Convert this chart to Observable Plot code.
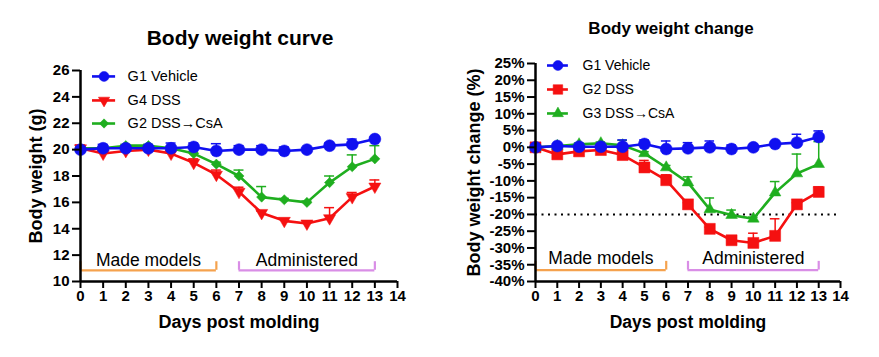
<!DOCTYPE html>
<html><head><meta charset="utf-8">
<script src="https://cdn.jsdelivr.net/npm/d3@7"></script>
<script src="https://cdn.jsdelivr.net/npm/@observablehq/plot@0.6"></script>
<style>
html,body{margin:0;padding:0;background:#fff;}
#wrap{position:relative;width:879px;height:357px;overflow:hidden;background:#fff;}
#wrap svg{position:absolute;top:0;}
</style></head><body><div id="wrap"></div>
<script>
// ---------- data ----------
const days = [0,1,2,3,4,5,6,7,8,9,10,11,12,13];
const xTicks = [0,1,2,3,4,5,6,7,8,9,10,11,12,13,14];
const weightTicks = [10,12,14,16,18,20,22,24,26];
const changeTicks = [-40,-35,-30,-25,-20,-15,-10,-5,0,5,10,15,20,25];

// Body weight curve (g)
const weightNames = ["G1 Vehicle", "G4 DSS", "G2 DSS\u2192CsA"];
const weightG1 = [20.0,20.1,20.1,20.1,20.1,20.2,19.9,20.0,20.0,19.9,20.0,20.3,20.4,20.8];
const weightG1Err = [0.1,0.3,0.2,0.2,0.4,0.3,0.55,0.3,0.3,0.3,0.15,0.2,0.4,0.15];
const weightG4 = [20.1,19.7,19.9,20.0,19.7,19.0,18.1,16.8,15.2,14.6,14.4,14.8,16.4,17.2];
const weightG4Err = [0.25,0.15,0.15,0.1,0.15,0.3,0.35,0.35,0.15,0.15,0.2,0.8,0.35,0.5];
const weightG2 = [20.1,20.1,20.3,20.3,20.1,19.7,18.9,18.0,16.4,16.2,16.0,17.5,18.7,19.3];
const weightG2Err = [0.1,0.1,0.1,0.1,0.1,0.1,0.15,0.45,0.8,0.1,0.1,0.5,0.9,1.0];

// Body weight change (%)
const changeNames = ["G1 Vehicle", "G2 DSS", "G3 DSS\u2192CsA"];
const changeG1 = [0.0,0.4,0.2,0.2,0.2,1.0,-0.5,-0.3,0.0,-0.5,0.0,1.0,1.4,3.1];
const changeG1Err = [0.3,0.5,0.5,0.5,2.0,1.2,2.4,1.7,1.9,1.2,0.4,0.4,2.5,1.8];
const changeG2 = [0.0,-2.1,-1.2,-0.8,-2.3,-6.0,-9.8,-17.0,-24.3,-27.7,-28.5,-26.4,-17.0,-13.3];
const changeG2Err = [0.3,0.4,0.5,0.5,0.5,2.1,1.6,0.5,0.5,0.5,2.9,5.1,0.5,1.5];
const changeG3 = [0.0,0.4,0.9,1.2,0.6,-1.8,-6.0,-10.5,-18.5,-20.2,-21.3,-13.5,-7.8,-5.0];
const changeG3Err = [0.3,0.3,0.4,0.4,1.5,0.5,0.6,1.7,3.4,1.5,0.5,3.3,5.8,6.7];

// Phase brackets
const phaseLabels = ["Made models", "Administered"];
const phaseStart = [0, 7];
const phaseEnd = [6, 13];
const phaseColors = ["#f5a24e", "#d98ee6"];

// ---------- styling ----------
const BLUE = "#1010f0", RED = "#f51010", GREEN = "#1fae1f";
const FONT = "Arial, 'Liberation Sans', sans-serif";

function rows(vals, errs){ return days.map((d,i)=>({day:d, value:vals[i], err:errs[i]})); }

function seriesMarks(data, color, symbol, r, rotate){
  const cap = 0.22;
  return [
    Plot.ruleX(data, {x:"day", y1:"value", y2:d=>d.value+d.err, stroke:color, strokeWidth:1.5}),
    Plot.ruleY(data, {y:d=>d.value+d.err, x1:d=>d.day-cap, x2:d=>d.day+cap, stroke:color, strokeWidth:1.5}),
    Plot.line(data, {x:"day", y:"value", stroke:color, strokeWidth:2.6}),
    Plot.dot(data, {x:"day", y:"value", symbol, r, fill:color, stroke:color, strokeWidth:0.5, rotate})
  ];
}

function legendMarks(names, colors, symbols, rs, rots, x0, x1, xm, xt, ys, fs){
  const ms = [];
  names.forEach((n,i)=>{
    ms.push(Plot.ruleY([ys[i]], {x1:x0, x2:x1, stroke:colors[i], strokeWidth:2.6}));
    ms.push(Plot.dot([0], {x:()=>xm, y:()=>ys[i], symbol:symbols[i], r:rs[i], fill:colors[i], stroke:colors[i], strokeWidth:0.5, rotate:rots[i]}));
    ms.push(Plot.text([n], {x:()=>xt, y:()=>ys[i], text:d=>d, textAnchor:"start", fontSize:fs, fill:"black", fontWeight:"normal"}));
  });
  return ms;
}

function phaseMarks(lineY, tickTop, textY, fs){
  const ph = phaseLabels.map((l,i)=>({label:l, s:phaseStart[i], e:phaseEnd[i], c:phaseColors[i]}));
  return [
    Plot.ruleY(ph, {y:()=>lineY, x1:"s", x2:"e", stroke:"c", strokeWidth:2.2}),
    Plot.ruleX(ph, {x:"s", y1:()=>lineY, y2:()=>tickTop, stroke:"c", strokeWidth:2.2}),
    Plot.ruleX(ph, {x:"e", y1:()=>lineY, y2:()=>tickTop, stroke:"c", strokeWidth:2.2}),
    Plot.text(ph, {x:d=>(d.s+d.e)/2, y:()=>textY, text:"label", lineAnchor:"bottom", fontSize:fs, fontWeight:"normal", fill:"black"})
  ];
}

function axes(yTicks, yFmt, yMin, title, titleDx, titleDy, titleFs, yTitle, yTitleDx, yTitleFs, xTitleFs){
  return [
    Plot.axisX({ticks:xTicks, tickSize:7, tickPadding:2, tickFormat:d=>String(d), fontSize:15, fontWeight:"bold", strokeWidth:2, label:null}),
    Plot.axisY({ticks:yTicks, tickSize:8, tickPadding:3, tickFormat:yFmt, fontSize:15, fontWeight:"bold", strokeWidth:2, label:null}),
    Plot.ruleY([yMin], {stroke:"black", strokeWidth:2.5}),
    Plot.ruleX([0], {stroke:"black", strokeWidth:2.5}),
    Plot.text([title], {text:d=>d, frameAnchor:"top", lineAnchor:"middle", dx:titleDx, dy:titleDy, fontSize:titleFs, fontWeight:"bold", fill:"black"}),
    Plot.text([yTitle], {text:d=>d, frameAnchor:"left", textAnchor:"middle", lineAnchor:"middle", rotate:-90, dx:yTitleDx, fontSize:yTitleFs, fontWeight:"bold", fill:"black"}),
    Plot.text(["Days post molding"], {text:d=>d, frameAnchor:"bottom", lineAnchor:"middle", dy:41, fontSize:xTitleFs, fontWeight:"bold", fill:"black"})
  ];
}

const style = {fontFamily:FONT, color:"black", background:"transparent", overflow:"visible"};

// ---------- left chart ----------
const left = Plot.plot({
  width:440, height:357,
  marginLeft:80, marginRight:43, marginTop:70, marginBottom:76,
  x:{domain:[0,14]}, y:{domain:[10,26]},
  style,
  marks:[
    ...phaseMarks(10.85, 11.5, 11.2, 17.5),
    ...seriesMarks(rows(weightG4, weightG4Err), RED, "triangle", 4.5, 180),
    ...seriesMarks(rows(weightG2, weightG2Err), GREEN, "diamond2", 4.6, 0),
    ...seriesMarks(rows(weightG1, weightG1Err), BLUE, "circle", 6, 0),
    ...legendMarks(weightNames, [BLUE,RED,GREEN], ["circle","triangle","diamond2"], [5,4.2,4.2], [0,180,0],
                   0.53, 1.55, 1.04, 2.08, [25.55, 23.73, 21.98], 14.5),
    ...axes(weightTicks, d=>String(d), 10, "Body weight curve", 1, -32, 21, "Body weight (g)", -44, 18, 18)
  ]
});
left.style.left = "0px";

// ---------- right chart ----------
const right = Plot.plot({
  width:439, height:357,
  marginLeft:95, marginRight:39, marginTop:63, marginBottom:76,
  x:{domain:[0,14]}, y:{domain:[-40,25]},
  style,
  marks:[
    Plot.ruleY([-20], {stroke:"black", strokeWidth:2, strokeDasharray:"2,4.5"}),
    ...phaseMarks(-36.6, -34.0, -34.8, 17.5),
    ...seriesMarks(rows(changeG2, changeG2Err), RED, "square", 6.2, 0),
    ...seriesMarks(rows(changeG3, changeG3Err), GREEN, "triangle", 4.3, 0),
    ...seriesMarks(rows(changeG1, changeG1Err), BLUE, "circle", 6, 0),
    ...legendMarks(changeNames, [BLUE,RED,GREEN], ["circle","square","triangle"], [5,5.4,4.1], [0,0,0],
                   0.55, 1.51, 1.03, 2.16, [24.4, 17.25, 10.1], 14),
    ...axes(changeTicks, d=>d+"%", -40, "Body weight change", -17, -35, 17, "Body weight change (%)", -61, 18, 17.5)
  ]
});
right.style.left = "440px";

const wrap = document.getElementById("wrap");
wrap.appendChild(left);
wrap.appendChild(right);
</script>
</body></html>
